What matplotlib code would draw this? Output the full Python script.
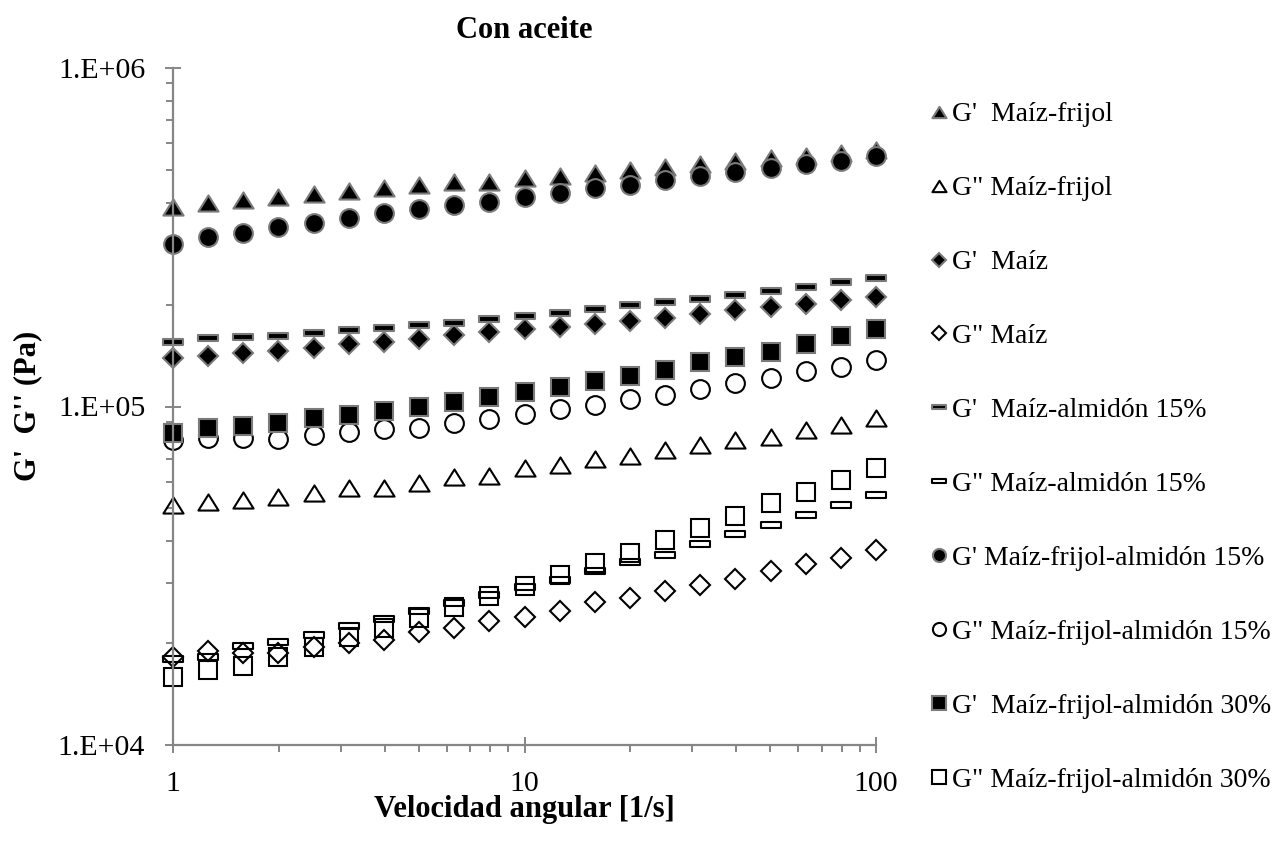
import matplotlib
matplotlib.use("Agg")
import matplotlib.pyplot as plt
from matplotlib.path import Path
from matplotlib.ticker import LogLocator, FixedLocator, FixedFormatter, NullFormatter

plt.rcParams['font.family'] = ['Liberation Serif', 'DejaVu Serif']

# Angular velocity [1/s]
omega = [1.0, 1.259, 1.585, 1.995, 2.512, 3.162, 3.981, 5.012, 6.310, 7.943,
         10.0, 12.59, 15.85, 19.95, 25.12, 31.62, 39.81, 50.12, 63.10, 79.43, 100.0]

# Moduli [Pa]
gp_maiz_frijol = [3.88e5, 3.98e5, 4.07e5, 4.15e5, 4.25e5, 4.34e5, 4.42e5, 4.50e5, 4.59e5, 4.61e5,
                  4.73e5, 4.80e5, 4.91e5, 5.00e5, 5.09e5, 5.19e5, 5.30e5, 5.41e5, 5.50e5, 5.60e5, 5.73e5]
gpp_maiz_frijol = [5.12e4, 5.23e4, 5.29e4, 5.41e4, 5.56e4, 5.73e4, 5.73e4, 5.96e4, 6.20e4, 6.23e4,
                   6.57e4, 6.72e4, 6.98e4, 7.14e4, 7.44e4, 7.69e4, 7.96e4, 8.15e4, 8.52e4, 8.82e4, 9.23e4]
gp_maiz = [1.39e5, 1.41e5, 1.44e5, 1.46e5, 1.49e5, 1.53e5, 1.555e5, 1.58e5, 1.63e5, 1.66e5,
           1.69e5, 1.72e5, 1.75e5, 1.79e5, 1.83e5, 1.87e5, 1.93e5, 1.97e5, 2.01e5, 2.06e5, 2.11e5]
gpp_maiz = [1.82e4, 1.89e4, 1.87e4, 1.87e4, 1.95e4, 2.00e4, 2.04e4, 2.15e4, 2.22e4, 2.32e4,
            2.39e4, 2.48e4, 2.64e4, 2.71e4, 2.86e4, 2.97e4, 3.09e4, 3.27e4, 3.43e4, 3.58e4, 3.77e4]
gp_maiz_alm15 = [1.55e5, 1.59e5, 1.60e5, 1.62e5, 1.65e5, 1.68e5, 1.71e5, 1.74e5, 1.77e5, 1.81e5,
                 1.855e5, 1.89e5, 1.94e5, 1.99e5, 2.03e5, 2.08e5, 2.14e5, 2.20e5, 2.26e5, 2.33e5, 2.40e5]
gpp_maiz_alm15 = [1.79e4, 1.82e4, 1.965e4, 2.02e4, 2.11e4, 2.24e4, 2.35e4, 2.48e4, 2.62e4, 2.77e4,
                  2.92e4, 3.07e4, 3.27e4, 3.47e4, 3.64e4, 3.93e4, 4.19e4, 4.47e4, 4.78e4, 5.12e4, 5.48e4]
gp_mfa15 = [3.03e5, 3.16e5, 3.26e5, 3.38e5, 3.49e5, 3.60e5, 3.72e5, 3.83e5, 3.95e5, 4.03e5,
            4.17e5, 4.28e5, 4.41e5, 4.51e5, 4.67e5, 4.80e5, 4.94e5, 5.05e5, 5.19e5, 5.32e5, 5.50e5]
gpp_mfa15 = [7.96e4, 8.05e4, 8.05e4, 8.00e4, 8.24e4, 8.42e4, 8.56e4, 8.62e4, 8.96e4, 9.16e4,
             9.50e4, 9.81e4, 1.01e5, 1.05e5, 1.08e5, 1.13e5, 1.17e5, 1.21e5, 1.27e5, 1.31e5, 1.37e5]
gp_mfa30 = [8.37e4, 8.62e4, 8.76e4, 8.96e4, 9.23e4, 9.44e4, 9.72e4, 9.94e4, 1.033e5, 1.07e5,
            1.106e5, 1.14e5, 1.19e5, 1.23e5, 1.28e5, 1.35e5, 1.40e5, 1.45e5, 1.53e5, 1.61e5, 1.69e5]
gpp_mfa30 = [1.585e4, 1.66e4, 1.715e4, 1.82e4, 1.95e4, 2.09e4, 2.21e4, 2.38e4, 2.55e4, 2.76e4,
             2.95e4, 3.18e4, 3.46e4, 3.70e4, 4.03e4, 4.37e4, 4.76e4, 5.18e4, 5.60e4, 6.07e4, 6.60e4]

labels = ["G'  Maíz-frijol", 'G" Maíz-frijol', "G'  Maíz", 'G" Maíz',
          "G'  Maíz-almidón 15%", 'G" Maíz-almidón 15%',
          "G' Maíz-frijol-almidón 15%", 'G" Maíz-frijol-almidón 15%',
          "G'  Maíz-frijol-almidón 30%", 'G" Maíz-frijol-almidón 30%']

# marker shapes
tri = Path([(-1, -0.8), (1, -0.8), (0, 0.8), (-1, -0.8)],
           [Path.MOVETO, Path.LINETO, Path.LINETO, Path.CLOSEPOLY])
dash = Path([(-1, -0.3), (1, -0.3), (1, 0.3), (-1, 0.3), (-1, -0.3)],
            [Path.MOVETO, Path.LINETO, Path.LINETO, Path.LINETO, Path.CLOSEPOLY])

edge_grey = '#7a7a7a'
styles = [
    dict(marker=tri, ms=14.5, mfc='black', mec=edge_grey),
    dict(marker=tri, ms=14.5, mfc='none', mec='black'),
    dict(marker='D', ms=10.3, mfc='black', mec=edge_grey),
    dict(marker='D', ms=10.3, mfc='none', mec='black'),
    dict(marker=dash, ms=14.5, mfc='black', mec=edge_grey),
    dict(marker=dash, ms=14.0, mfc='none', mec='black'),
    dict(marker='o', ms=13.5, mfc='black', mec=edge_grey),
    dict(marker='o', ms=13.5, mfc='none', mec='black'),
    dict(marker='s', ms=13.5, mfc='black', mec=edge_grey),
    dict(marker='s', ms=13.5, mfc='none', mec='black'),
]
series = [gp_maiz_frijol, gpp_maiz_frijol, gp_maiz, gpp_maiz, gp_maiz_alm15, gpp_maiz_alm15,
          gp_mfa15, gpp_mfa15, gp_mfa30, gpp_mfa30]

fig = plt.figure(figsize=(12.72, 8.43), dpi=100)
ax = fig.add_axes([173 / 1272, 1 - 745 / 843, (876 - 173) / 1272, (745 - 68) / 843])

handles = []
for vals, st, lab in zip(series, styles, labels):
    h, = ax.plot(omega, vals, linestyle='none', marker=st['marker'], markersize=st['ms'],
                 markerfacecolor=st['mfc'], markeredgecolor=st['mec'], markeredgewidth=1.5,
                 label=lab, clip_on=False)
    handles.append(h)

ax.set_xscale('log')
ax.set_yscale('log')
ax.set_xlim(1, 100)
ax.set_ylim(1e4, 1e6)

axis_grey = '#868686'
for side in ('top', 'right'):
    ax.spines[side].set_visible(False)
for side in ('left', 'bottom'):
    ax.spines[side].set_color(axis_grey)
    ax.spines[side].set_linewidth(1.6)

ax.xaxis.set_major_locator(FixedLocator([1, 10, 100]))
ax.xaxis.set_major_formatter(FixedFormatter(['1', '10', '100']))
ax.xaxis.set_minor_locator(LogLocator(base=10, subs=range(2, 10)))
ax.xaxis.set_minor_formatter(NullFormatter())
ax.yaxis.set_major_locator(FixedLocator([1e4, 1e5, 1e6]))
ax.yaxis.set_major_formatter(FixedFormatter(['1.E+04', '1.E+05', '1.E+06']))
ax.yaxis.set_minor_locator(LogLocator(base=10, subs=range(2, 10)))
ax.yaxis.set_minor_formatter(NullFormatter())

ax.tick_params(which='major', direction='inout', length=12, width=1.4, color=axis_grey,
               labelsize=21.5, labelcolor='black')
ax.tick_params(which='minor', direction='out', length=5, width=1.4, color=axis_grey)
ax.tick_params(axis='x', which='major', pad=13)
ax.tick_params(axis='y', which='major', pad=14)

fig.text(524 / 1272, 1 - 30 / 843, 'Con aceite', ha='center', va='center',
         fontsize=22, fontweight='bold')
fig.text(524 / 1272, 1 - 810 / 843, 'Velocidad angular [1/s]', ha='center', va='center',
         fontsize=22, fontweight='bold')
fig.text(28 / 1272, 1 - 406 / 843, "G'  G'' (Pa)", ha='center', va='center',
         rotation=90, fontsize=22, fontweight='bold')

leg = fig.legend(handles=handles, loc='upper left', bbox_to_anchor=(931 / 1272, 1 - 102 / 843),
                 frameon=False, fontsize=20, markerscale=0.7, handlelength=0.6,
                 handletextpad=0.15, labelspacing=1.745, borderaxespad=0, borderpad=0)

fig.savefig('out.png', dpi=100)
